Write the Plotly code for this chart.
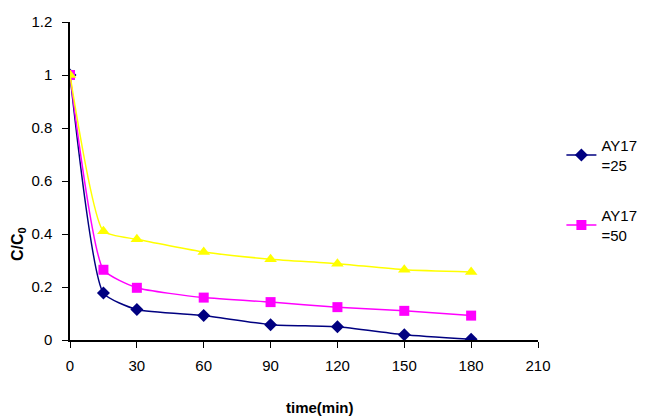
import plotly.graph_objects as go

time_min = [0, 15, 30, 60, 90, 120, 150, 180]
ay17_25 = [1.0, 0.177, 0.115, 0.092, 0.058, 0.05, 0.02, 0.003]
ay17_50 = [1.0, 0.265, 0.197, 0.16, 0.143, 0.124, 0.11, 0.092]
ay17_third = [1.0, 0.41, 0.38, 0.332, 0.305, 0.288, 0.265, 0.257]
names = ["AY17<br>=25", "AY17<br>=50", "AY17<br>=100"]

fig = go.Figure()
fig.add_trace(go.Scatter(x=time_min, y=ay17_25, name=names[0], mode="lines+markers",
                         legendgroup="a",
                         line=dict(color="#000080", width=1.5, shape="spline", smoothing=0.5),
                         marker=dict(symbol="diamond", size=10, color="#000080")))
fig.add_trace(go.Scatter(x=time_min, y=ay17_50, name=names[1], mode="lines+markers",
                         legendgroup="b",
                         line=dict(color="#FF00FF", width=1.5, shape="spline", smoothing=0.5),
                         marker=dict(symbol="square", size=10, color="#FF00FF")))
fig.add_trace(go.Scatter(x=time_min, y=ay17_third, name=names[2], mode="lines+markers",
                         legendgroup="c",
                         line=dict(color="#FFFF00", width=1.5, shape="spline", smoothing=0.5),
                         marker=dict(symbol="triangle-up", size=11, color="#FFFF00"),
                         showlegend=False))

fig.update_layout(
    width=642, height=410,
    margin=dict(l=62, r=112, t=14, b=78, autoexpand=False),
    plot_bgcolor="white", paper_bgcolor="white",
    font=dict(family="Liberation Sans, Arial, sans-serif", size=15, color="black"),
    legend=dict(xref="container", yref="container", x=0.862, y=0.705,
                xanchor="left", yanchor="top", traceorder="grouped",
                font=dict(size=15), bgcolor="rgba(0,0,0,0)", itemwidth=30, tracegroupgap=28),
    xaxis=dict(range=[0, 210], tick0=0, dtick=30, showgrid=False, zeroline=False,
               showline=True, linecolor="black", linewidth=1.5, ticks="outside",
               ticklen=6, tickcolor="black", ticklabelstandoff=5),
    yaxis=dict(range=[0, 1.2], tick0=0, dtick=0.2, showgrid=False, zeroline=False,
               showline=True, linecolor="black", linewidth=1.5, ticks="outside",
               ticklen=6, tickcolor="black", ticklabelstandoff=7),
    annotations=[
        dict(text="<b>time(min)</b>", xref="paper", yref="paper", x=0.535, y=-0.18,
             xanchor="center", yanchor="top", showarrow=False, font=dict(size=15)),
        dict(text="<b>C/C<sub>0</sub></b>", xref="paper", yref="paper", x=-0.11, y=0.30,
             xanchor="center", yanchor="middle", textangle=-90, showarrow=False,
             font=dict(size=16)),
    ],
)
fig.write_html("out.html")
